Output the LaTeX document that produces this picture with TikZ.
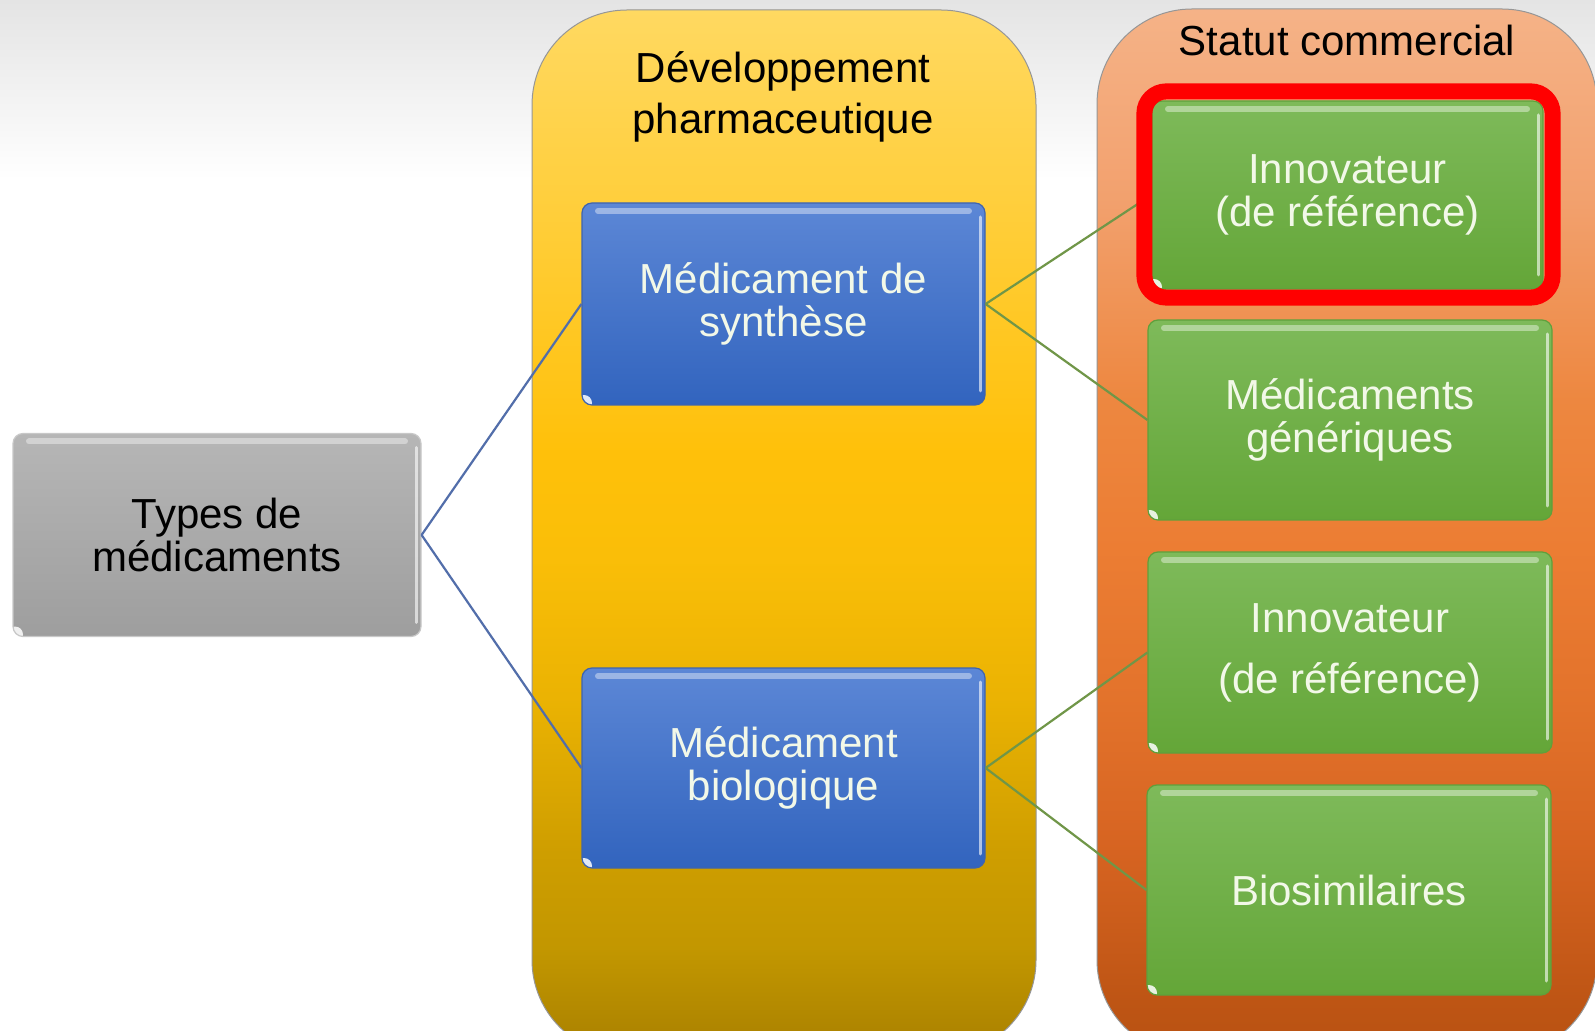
\documentclass[tikz,border=0pt]{standalone}
\usepackage{fontspec}
\setmainfont{Liberation Sans}
\definecolor{bgTop}{RGB}{228,228,228}
\definecolor{panelEdge}{RGB}{150,150,150}
\definecolor{blTop}{RGB}{92,135,214}
\definecolor{blBot}{RGB}{50,100,190}
\definecolor{blEdge}{RGB}{62,100,175}
\definecolor{grTop}{RGB}{182,182,182}
\definecolor{grBot}{RGB}{158,158,158}
\definecolor{grEdge}{RGB}{200,200,200}
\definecolor{gnTop}{RGB}{126,186,90}
\definecolor{gnBot}{RGB}{100,166,56}
\definecolor{gnEdge}{RGB}{95,160,60}
\definecolor{boxText}{RGB}{242,248,232}
\definecolor{bConn}{RGB}{82,110,170}
\definecolor{gConn}{RGB}{112,150,72}
\pgfdeclareverticalshading{yellowshade}{100bp}{
  rgb(0bp)=(0.66,0.5,0);
  rgb(25bp)=(0.66,0.5,0);
  rgb(30bp)=(0.76,0.59,0);
  rgb(34.8bp)=(0.81,0.62,0);
  rgb(42bp)=(0.92,0.70,0.01);
  rgb(48.7bp)=(0.98,0.745,0.03);
  rgb(54bp)=(1,0.755,0.04);
  rgb(63.5bp)=(1,0.80,0.2);
  rgb(75bp)=(1,0.85,0.38);
  rgb(100bp)=(1,0.85,0.38)}
\pgfdeclareverticalshading{orangeshade}{100bp}{
  rgb(0bp)=(0.72,0.32,0.07);
  rgb(25bp)=(0.72,0.32,0.07);
  rgb(27.6bp)=(0.745,0.333,0.08);
  rgb(34.8bp)=(0.84,0.39,0.13);
  rgb(42bp)=(0.89,0.45,0.17);
  rgb(49.2bp)=(0.925,0.49,0.2);
  rgb(56.3bp)=(0.93,0.53,0.25);
  rgb(65.9bp)=(0.95,0.63,0.43);
  rgb(75bp)=(0.96,0.70,0.53);
  rgb(100bp)=(0.96,0.70,0.53)}
\begin{document}
\begin{tikzpicture}[x=0.5pt,y=-0.5pt,
  txt/.style={font=\fontsize{21}{21.5}\selectfont, align=center},
  hdr/.style={font=\fontsize{21}{25.5}\selectfont, align=center, text=black, inner sep=0pt},
  panel/.style={draw=panelEdge, line width=0.5pt, rounded corners=47.5pt},
  box/.style={rounded corners=5pt, txt, inner sep=0pt, line width=0.6pt,
    path picture={
      \draw[white,opacity=.4,line width=3pt,line cap=round]
        ([shift={(8pt,-4pt)}]path picture bounding box.north west) --
        ([shift={(-8pt,-4pt)}]path picture bounding box.north east);
      \draw[white,opacity=.6,line width=1.5pt,line cap=round]
        ([shift={(-2.5pt,-7pt)}]path picture bounding box.north east) --
        ([shift={(-2.5pt,7pt)}]path picture bounding box.south east);
      \fill[white,opacity=.85]
        ([shift={(1pt,1pt)}]path picture bounding box.south west) circle (4pt);
    }},
  graybox/.style={box, draw=grEdge, top color=grTop, bottom color=grBot, text=black},
  bluebox/.style={box, draw=blEdge, top color=blTop, bottom color=blBot, text=boxText},
  greenbox/.style={box, draw=gnEdge, top color=gnTop, bottom color=gnBot, text=boxText},
  bline/.style={draw=bConn, line width=1.1pt},
  gline/.style={draw=gConn, line width=1.1pt},
  redframe/.style={draw=red, line width=8pt, rounded corners=11pt}
]
\useasboundingbox (0,0) rectangle (1595,1031);
% background
\fill[white] (0,0) rectangle (1595,1031);
\shade[top color=bgTop, bottom color=white] (0,0) rectangle (1595,180);
% panels
\path[panel, shading=yellowshade] (532,10) rectangle (1036,1055);
\path[panel, shading=orangeshade] (1097,9) rectangle (1597,1055);
% headers
\node[hdr] (devh) at (783,97) {Développement\\pharmaceutique};
\node[hdr] (stat) at (1347,40) {Statut commercial};
% boxes
\node[graybox, minimum width=204pt, minimum height=101.5pt] (types) at (217,535) {Types de\\médicaments};
\node[bluebox, minimum width=201.5pt, minimum height=101pt] (b1) at (783.5,304) {Médicament de\\synthèse};
\node[bluebox, minimum width=201.5pt, minimum height=100pt] (b2) at (783.5,768) {Médicament\\biologique};
\node[greenbox, minimum width=195.5pt, minimum height=94pt] (g1) at (1347.5,195) {Innovateur\\(de référence)};
\node[greenbox, minimum width=202pt, minimum height=100pt] (g2) at (1350,420) {Médicaments\\génériques};
\node[greenbox, minimum width=202pt, minimum height=100.5pt, font=\fontsize{21}{30.5}\selectfont] (g3) at (1350,652.5) {Innovateur\\(de référence)};
\node[greenbox, minimum width=202pt, minimum height=105pt] (g4) at (1349,890) {Biosimilaires};
% connectors
\draw[bline] (types.east) -- (b1.west);
\draw[bline] (types.east) -- (b2.west);
\draw[gline] (b1.east) -- (g1.west);
\draw[gline] (b1.east) -- (g2.west);
\draw[gline] (b2.east) -- (g3.west);
\draw[gline] (b2.east) -- (g4.west);
% highlight frame
\draw[redframe] ([shift={(-7,-9)}]g1.north west) rectangle ([shift={(9,8)}]g1.south east);
\end{tikzpicture}
\end{document}
